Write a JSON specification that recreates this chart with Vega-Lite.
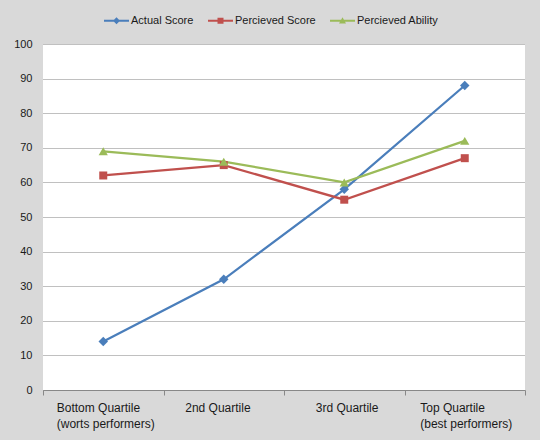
{
  "$schema": "https://vega.github.io/schema/vega-lite/v6.json",
  "autosize": {"type": "none"},
  "width": 482,
  "height": 346,
  "padding": {"left": 43, "top": 44, "right": 15, "bottom": 50},
  "background": "#d9d9d9",
  "config": {
    "view": {"fill": "white", "stroke": null},
    "font": "Liberation Sans",
    "axis": {"labelColor": "#1a1a1a", "labelFont": "Liberation Sans"},
    "legend": {"labelFont": "Liberation Sans"}
  },
  "data": {
    "values": [
      {"quartile": "Bottom Quartile|(worts performers)", "series": "Actual Score", "value": 14},
      {"quartile": "2nd Quartile", "series": "Actual Score", "value": 32},
      {"quartile": "3rd Quartile", "series": "Actual Score", "value": 58},
      {"quartile": "Top Quartile|(best performers)", "series": "Actual Score", "value": 88},
      {"quartile": "Bottom Quartile|(worts performers)", "series": "Percieved Score", "value": 62},
      {"quartile": "2nd Quartile", "series": "Percieved Score", "value": 65},
      {"quartile": "3rd Quartile", "series": "Percieved Score", "value": 55},
      {"quartile": "Top Quartile|(best performers)", "series": "Percieved Score", "value": 67},
      {"quartile": "Bottom Quartile|(worts performers)", "series": "Percieved Ability", "value": 69},
      {"quartile": "2nd Quartile", "series": "Percieved Ability", "value": 66},
      {"quartile": "3rd Quartile", "series": "Percieved Ability", "value": 60},
      {"quartile": "Top Quartile|(best performers)", "series": "Percieved Ability", "value": 72}
    ]
  },
  "encoding": {
    "x": {
      "field": "quartile",
      "type": "nominal",
      "sort": null,
      "scale": {"type": "band", "paddingInner": 0, "paddingOuter": 0},
      "axis": {
        "title": null,
        "labelAngle": 0,
        "labelExpr": "split(datum.label, '|')",
        "labelAlign": "left",
        "labelBaseline": "top",
        "labelFontSize": 12,
        "labelLineHeight": 16,
        "labelPadding": 7,
        "labelOffset": {
          "condition": [
            {"test": "datum.value === '2nd Quartile'", "value": -39},
            {"test": "datum.value === '3rd Quartile'", "value": -29},
            {"test": "datum.value === 'Top Quartile|(best performers)'", "value": -45}
          ],
          "value": -47
        },
        "tickBand": "extent",
        "tickSize": 5,
        "tickColor": "#888888",
        "domainColor": "#888888",
        "grid": false
      }
    },
    "y": {
      "field": "value",
      "type": "quantitative",
      "scale": {"domain": [0, 100], "nice": false},
      "axis": {
        "title": null,
        "values": [0, 10, 20, 30, 40, 50, 60, 70, 80, 90, 100],
        "domain": false,
        "ticks": false,
        "labelPadding": 11,
        "labelFontSize": 11,
        "gridColor": "#808080",
        "gridDash": [1, 1],
        "gridWidth": 1
      }
    },
    "color": {
      "field": "series",
      "type": "nominal",
      "sort": ["Actual Score", "Percieved Score", "Percieved Ability"],
      "scale": {
        "domain": ["Actual Score", "Percieved Score", "Percieved Ability"],
        "range": ["#4a7ebb", "#c0504d", "#9bbb59"]
      },
      "legend": {
        "title": null,
        "orient": "none",
        "direction": "horizontal",
        "legendX": 61,
        "legendY": -36,
        "labelFontSize": 11,
        "labelColor": "#1a1a1a",
        "labelOffset": 2,
        "columnPadding": 14,
        "symbolSize": 625,
        "symbolOpacity": 1,
        "symbolStrokeWidth": 0
      }
    }
  },
  "layer": [
    {
      "mark": {"type": "line", "strokeWidth": 2.25}
    },
    {
      "transform": [{"filter": "datum.series === 'Actual Score'"}],
      "mark": {"type": "point", "filled": true, "size": 90, "opacity": 1, "shape": "diamond"}
    },
    {
      "transform": [{"filter": "datum.series === 'Percieved Score'"}],
      "mark": {"type": "point", "filled": true, "size": 64, "opacity": 1, "shape": "square"}
    },
    {
      "transform": [{"filter": "datum.series === 'Percieved Ability'"}],
      "mark": {"type": "point", "filled": true, "size": 85, "opacity": 1, "shape": "triangle-up"}
    },
    {
      "transform": [{"filter": "false"}],
      "mark": {"type": "point", "filled": true, "size": 625, "opacity": 1},
      "encoding": {
        "shape": {
          "field": "series",
          "type": "nominal",
          "sort": ["Actual Score", "Percieved Score", "Percieved Ability"],
          "scale": {
            "domain": ["Actual Score", "Percieved Score", "Percieved Ability"],
            "range": [
              "M-1,-0.08H1V0.08H-1ZM-0.28,0L0,-0.28L0.28,0L0,0.28Z",
              "M-1,-0.08H1V0.08H-1ZM-0.24,-0.24H0.24V0.24H-0.24Z",
              "M-1,-0.08H1V0.08H-1ZM-0.28,0.22L0,-0.28L0.28,0.22Z"
            ]
          }
        }
      }
    }
  ]
}
